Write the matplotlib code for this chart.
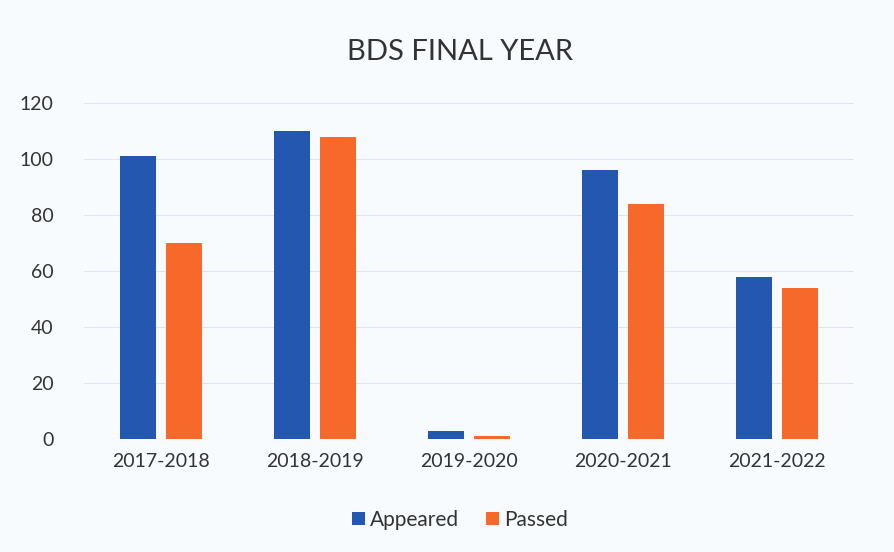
import matplotlib.pyplot as plt
import numpy as np

years = ["2017-2018", "2018-2019", "2019-2020", "2020-2021", "2021-2022"]
appeared = [101, 110, 3, 96, 58]
passed = [70, 108, 1, 84, 54]

BG = "#f7fbfd"
BLUE = "#2457b0"
ORANGE = "#f6692a"
TXT = "#333333"

plt.rcParams["font.family"] = ["Lato", "DejaVu Sans"]

fig = plt.figure(figsize=(8.95, 5.52), dpi=100, facecolor=BG)
ax = fig.add_axes([0.094, 0.2047, 0.86, 0.6087], facecolor=BG)

x = np.arange(len(years))
w = 0.234
ax.bar(x - 0.15, appeared, w, color=BLUE, label="Appeared", zorder=3)
ax.bar(x + 0.15, passed, w, color=ORANGE, label="Passed", zorder=3)

ax.set_xlim(-0.5, len(years) - 0.5)
ax.set_ylim(0, 120)
ax.set_yticks(range(0, 121, 20))
ax.set_xticks(x)
ax.set_xticklabels(years)
ax.grid(axis="y", color="#dde6ee", linewidth=0.8, zorder=0)
for s in ax.spines.values():
    s.set_visible(False)
ax.tick_params(length=0, labelsize=14, colors=TXT)
ax.tick_params(axis="x", pad=10)
ax.tick_params(axis="y", pad=22)

fig.text(0.514, 0.905, "BDS FINAL YEAR", ha="center", va="center", fontsize=21, color=TXT)
fig.legend(loc="center", bbox_to_anchor=(0.514, 0.058), ncol=2, frameon=False,
           fontsize=15, handlelength=0.6, handleheight=0.6, handletextpad=0.25,
           columnspacing=1.3, labelcolor=TXT)

fig.savefig("out.png", dpi=100, facecolor=BG)
